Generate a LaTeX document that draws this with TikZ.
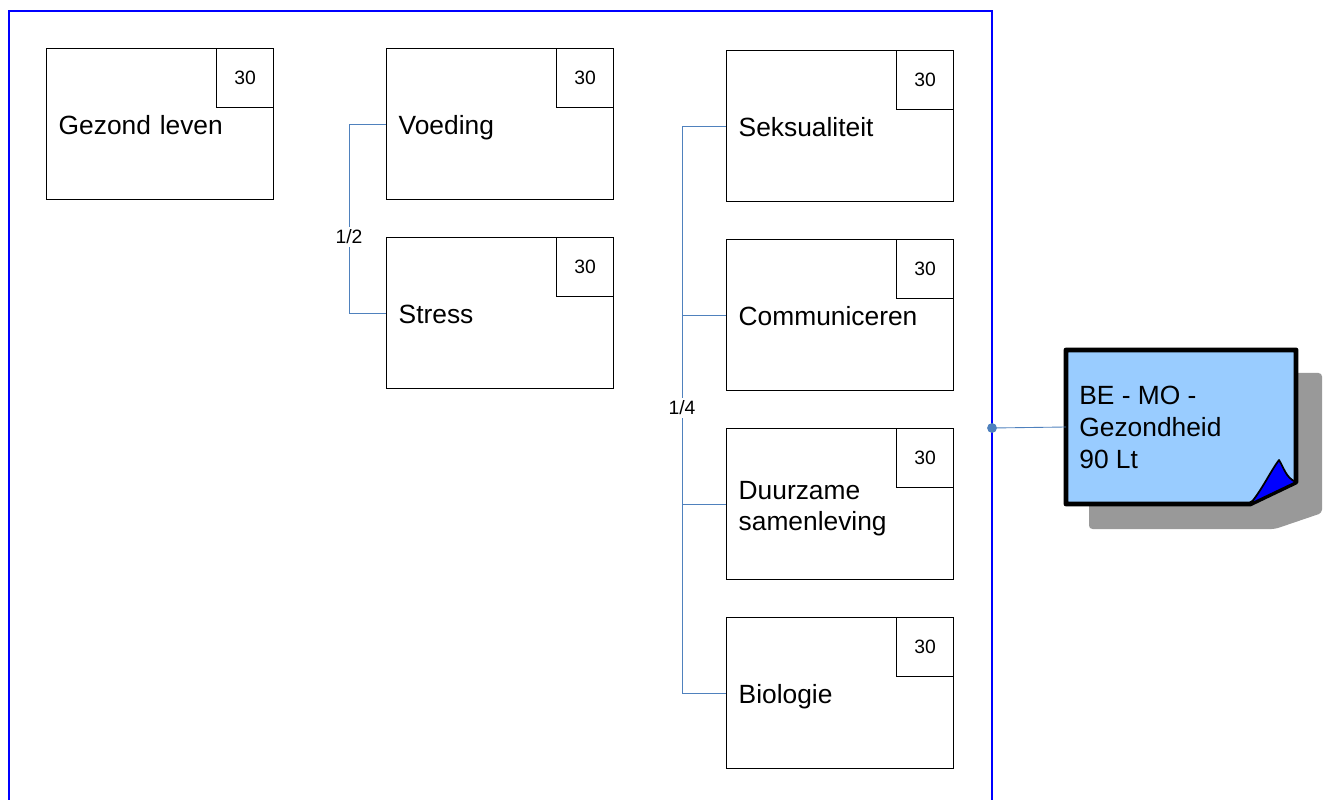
\documentclass[tikz,border=0pt]{standalone}
\usepackage{fontspec}
\setmainfont{Liberation Sans}

\definecolor{linkblue}{RGB}{79,129,189}
\definecolor{noteblue}{RGB}{153,204,255}
\definecolor{shadowgray}{RGB}{153,153,153}

\tikzset{
    topic/.style={draw, line width=0.8pt, anchor=north west, minimum width=4.54cm, minimum height=3.02cm,
        text width=4.06cm, inner xsep=0.24cm, align=left, font=\fontsize{15}{17.6}\selectfont,
        execute at begin node=\rule{0pt}{17.3pt}, execute at end node=\strut},
    score/.style={draw, line width=0.8pt, anchor=north east, minimum width=1.14cm, minimum height=1.18cm,
        font=\fontsize{11}{13}\selectfont},
    link/.style={linkblue, line width=0.5pt},
    share/.style={fill=white, inner sep=1.5pt, font=\fontsize{11}{13}\selectfont},
}

\begin{document}
\begin{tikzpicture}[x=0.02cm, y=-0.02cm]

    \useasboundingbox (0,0) rectangle (1325,800);

    \draw [blue, line width=1.2pt] (9,800) -- (9,11) -- (992,11) -- (992,800);

    \node [topic] (gezond) at (46,48) {Gezond leven};
    \node [score] (gezond-s) at (gezond.north east) {30};

    \node [topic] (voeding) at (386,48) {Voeding};
    \node [score] (voeding-s) at (voeding.north east) {30};
    \node [topic] (stress) at (386,237) {Stress};
    \node [score] (stress-s) at (stress.north east) {30};

    \node [topic] (seks) at (726,50) {Seksualiteit};
    \node [score] (seks-s) at (seks.north east) {30};
    \node [topic] (commun) at (726,239) {Communiceren};
    \node [score] (commun-s) at (commun.north east) {30};
    \node [topic] (duurz) at (726,428) {Duurzame\\samenleving};
    \node [score] (duurz-s) at (duurz.north east) {30};
    \node [topic] (bio) at (726,617) {Biologie};
    \node [score] (bio-s) at (bio.north east) {30};

    \draw [link] (voeding.west) -- ++(-37,0) |- (stress.west);
    \node [share] (half) at (349,237) {1/2};

    \draw [link] (seks.west) -- ++(-44,0) coordinate (rail) |- (bio.west);
    \draw [link] (commun.west) -- (commun.west -| rail);
    \draw [link] (duurz.west) -- (duurz.west -| rail);
    \node [share] (quarter) at (682,408) {1/4};

    % note with shadow and curled corner
    \fill [shadowgray, rounded corners=2pt] (1089,373) -- (1322,373) -- (1322,513) -- (1275,529) -- (1089,529) -- cycle;
    \draw [fill=noteblue, line width=2.8pt, line join=round] (1066,350) -- (1296,350) -- (1296,482) -- (1250,504) -- (1066,504) -- cycle;
    \filldraw [fill=blue, draw=black, line width=1pt, line join=round] (1250,504) .. controls (1262,490) and (1270,472) .. (1279,460)
        .. controls (1284,468) and (1286,478) .. (1296,482) -- cycle;
    \node [anchor=west, align=left, inner xsep=0.26cm, font=\fontsize{15}{18.2}\selectfont] (note) at (1066,427)
        {BE - MO -\\Gezondheid\\90 Lt};

    \coordinate (hub) at (992,428);
    \draw [link] (hub) -- (note.west);
    \fill [linkblue] (hub) circle (2.8pt);

\end{tikzpicture}
\end{document}
